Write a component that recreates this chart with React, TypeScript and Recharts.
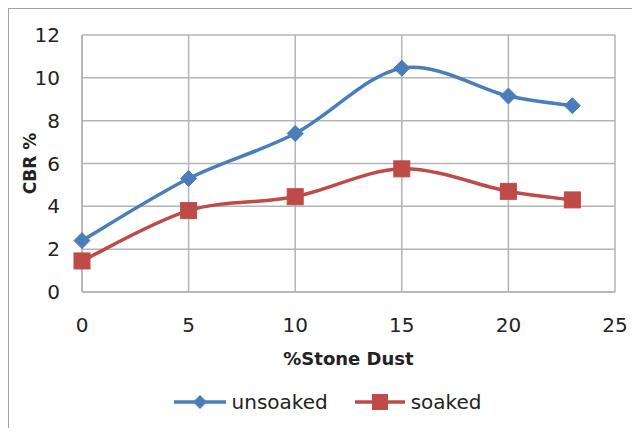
import React from "react";
import { LineChart, Line, XAxis, YAxis, CartesianGrid, Legend, Label } from "recharts";

// % stone dust in the soil mix
const stoneDust = [0, 5, 10, 15, 20, 23];
// CBR values (%)
const unsoaked = [2.4, 5.3, 7.4, 10.45, 9.15, 8.7];
const soaked = [1.45, 3.8, 4.45, 5.75, 4.7, 4.3];

const xTicks = [0, 5, 10, 15, 20, 25];
const yTicks = [0, 2, 4, 6, 8, 10, 12];

const data = stoneDust.map((x, i) => ({ x, unsoaked: unsoaked[i], soaked: soaked[i] }));

const BLUE = "#4a7ebb";
const RED = "#be4b48";
const GRID = "#b4b4b4";
const TEXT = "#222";
const FONT = "'DejaVu Sans', sans-serif";

// Smoothed line: cubic Bezier through every point (Catmull-Rom style tangents)
function smoothCurve(context: any) {
  let pts: [number, number][] = [];
  return {
    areaStart() {},
    areaEnd() {},
    lineStart() {
      pts = [];
    },
    point(x: number, y: number) {
      pts.push([+x, +y]);
    },
    lineEnd() {
      if (!pts.length) return;
      context.moveTo(pts[0][0], pts[0][1]);
      for (let i = 0; i < pts.length - 1; i++) {
        const p0 = pts[i - 1] || pts[i];
        const p1 = pts[i];
        const p2 = pts[i + 1];
        const p3 = pts[i + 2] || p2;
        context.bezierCurveTo(
          p1[0] + (p2[0] - p0[0]) / 6,
          p1[1] + (p2[1] - p0[1]) / 6,
          p2[0] - (p3[0] - p1[0]) / 6,
          p2[1] - (p3[1] - p1[1]) / 6,
          p2[0],
          p2[1]
        );
      }
    },
  };
}

const Diamond = (props: any) => {
  const { cx, cy } = props;
  if (cx == null || cy == null) return null;
  const r = 8;
  return (
    <path
      d={`M${cx},${cy - r}L${cx + r},${cy}L${cx},${cy + r}L${cx - r},${cy}Z`}
      fill={BLUE}
      stroke={BLUE}
      strokeWidth={1}
    />
  );
};

const Square = (props: any) => {
  const { cx, cy } = props;
  if (cx == null || cy == null) return null;
  const s = 16;
  return <rect x={cx - s / 2} y={cy - s / 2} width={s} height={s} fill={RED} stroke={RED} strokeWidth={1} />;
};

const LegendContent = () => (
  <div
    style={{
      display: "flex",
      alignItems: "center",
      justifyContent: "center",
      height: 24,
      paddingLeft: 30,
      fontFamily: FONT,
      fontSize: 20,
      color: TEXT,
    }}
  >
    <svg width={54} height={20} style={{ marginRight: 5 }}>
      <line x1={1} y1={10} x2={53} y2={10} stroke={BLUE} strokeWidth={3.5} />
      <path d="M27,3L34,10L27,17L20,10Z" fill={BLUE} />
    </svg>
    <span style={{ marginRight: 26 }}>unsoaked</span>
    <svg width={52} height={20} style={{ marginRight: 5 }}>
      <line x1={1} y1={10} x2={51} y2={10} stroke={RED} strokeWidth={3.5} />
      <rect x={18} y={2} width={16} height={16} fill={RED} />
    </svg>
    <span>soaked</span>
  </div>
);

const YTitle = (props: any) => {
  const vb = props.viewBox || {};
  const x = (vb.x || 0) + 21;
  const y = (vb.y || 0) + (vb.height || 0) / 2;
  return (
    <text
      x={x}
      y={y}
      transform={`rotate(-90, ${x}, ${y})`}
      textAnchor="middle"
      dominantBaseline="central"
      fontFamily={FONT}
      fontSize={17}
      fontWeight="bold"
      fill={TEXT}
    >
      CBR %
    </text>
  );
};

const XTitle = (props: any) => {
  const vb = props.viewBox || {};
  const x = (vb.x || 0) + (vb.width || 0) / 2;
  const y = (vb.y || 0) + 66;
  return (
    <text
      x={x}
      y={y}
      textAnchor="middle"
      dominantBaseline="central"
      fontFamily={FONT}
      fontSize={18}
      fontWeight="bold"
      fill={TEXT}
    >
      %Stone Dust
    </text>
  );
};

export default function App() {
  return (
    <div
      style={{
        width: 631,
        height: 427,
        borderLeft: "1px solid #a2a2a2",
        borderTop: "1px solid #a2a2a2",
        marginBottom: -8,
        background: "#fff",
      }}
    >
      <LineChart
        width={631}
        height={427}
        data={data}
        margin={{ top: 26, right: 25, bottom: 22, left: 0 }}
      >
        <CartesianGrid stroke={GRID} strokeWidth={1.5} />
        <XAxis
          dataKey="x"
          type="number"
          domain={[0, 25]}
          ticks={xTicks}
          interval={0}
          height={98}
          axisLine={{ stroke: GRID, strokeWidth: 1.5 }}
          tickLine={false}
          tickSize={0}
          tickMargin={26}
          tick={{ fontFamily: FONT, fontSize: 20, fill: TEXT }}
        >
          <Label content={<XTitle />} />
        </XAxis>
        <YAxis
          type="number"
          domain={[0, 12]}
          ticks={yTicks}
          interval={0}
          width={73}
          axisLine={{ stroke: GRID, strokeWidth: 1.5 }}
          tickLine={false}
          tickSize={0}
          tickMargin={22}
          tick={{ fontFamily: FONT, fontSize: 20, fill: TEXT }}
        >
          <Label content={<YTitle />} />
        </YAxis>
        <Legend verticalAlign="bottom" content={<LegendContent />} />
        <Line
          dataKey="unsoaked"
          name="unsoaked"
          type={smoothCurve as any}
          stroke={BLUE}
          strokeWidth={3.5}
          dot={<Diamond />}
          activeDot={false}
          isAnimationActive={false}
        />
        <Line
          dataKey="soaked"
          name="soaked"
          type={smoothCurve as any}
          stroke={RED}
          strokeWidth={3.5}
          dot={<Square />}
          activeDot={false}
          isAnimationActive={false}
        />
      </LineChart>
    </div>
  );
}
